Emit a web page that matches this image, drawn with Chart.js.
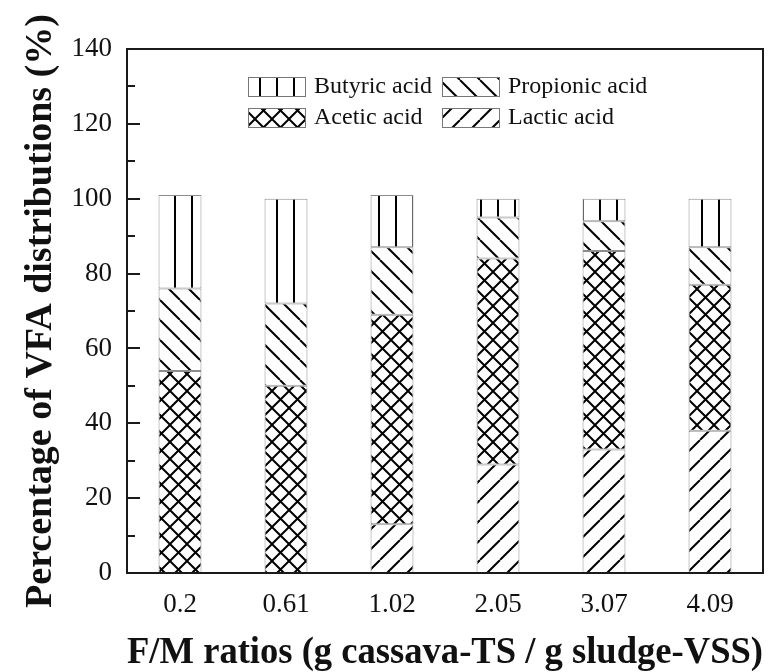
<!DOCTYPE html>
<html>
<head>
<meta charset="utf-8">
<script src="https://cdn.jsdelivr.net/npm/chart.js@4.4.1/dist/chart.umd.min.js"></script>
<style>
  html, body { margin: 0; padding: 0; background: #fff; }
  #wrap { width: 772px; height: 672px; }
</style>
</head>
<body>
<div id="wrap"><canvas id="chart" width="772" height="672"></canvas></div>
<script>
// F/M ratios on the x axis, VFA shares (%) stacked from the bottom up
const ratios    = ["0.2", "0.61", "1.02", "2.05", "3.07", "4.09"]
const lactic    = [0, 0, 13, 29, 33, 38]
const acetic    = [54, 50, 56, 55, 53, 39]
const propionic = [22, 22, 18, 11, 8, 10]
const butyric   = [25, 28, 14, 5, 6, 13]
const yTicks    = [0, 20, 40, 60, 80, 100, 120, 140]

const SERIF = "'Liberation Serif', 'Times New Roman', serif"

// ── Hatch fills ────────────────────────────────────────────────────────────

function hatch(kind) {
  const s = (kind === "vert" || kind === "cross") ? 17 : 20
  const c = document.createElement("canvas")
  c.width = s; c.height = s
  const g = c.getContext("2d")
  g.fillStyle = "#fff"
  g.fillRect(0, 0, s, s)
  g.strokeStyle = "#000"
  g.lineWidth = 2
  g.beginPath()
  if (kind === "vert") {
    g.moveTo(5, 0); g.lineTo(5, s)
  }
  for (let k = -1; k <= 1; k++) {
    if (kind === "fwd" || kind === "cross") { g.moveTo(k * s, s); g.lineTo((k + 1) * s, 0) }
    if (kind === "back" || kind === "cross") { g.moveTo(k * s, 0); g.lineTo((k + 1) * s, s) }
  }
  g.stroke()
  return g.createPattern(c, "repeat")
}

const series = [
  { label: "Lactic acid",    data: lactic,    fill: hatch("fwd")   },
  { label: "Acetic acid",    data: acetic,    fill: hatch("cross") },
  { label: "Propionic acid", data: propionic, fill: hatch("back")  },
  { label: "Butyric acid",   data: butyric,   fill: hatch("vert")  }
]

// ── Frame, inward ticks and in-plot legend ─────────────────────────────────

const framePlugin = {
  id: "frame",
  afterDatasetsDraw(chart) {
    const { ctx, chartArea: a, scales: { y } } = chart
    ctx.save()
    ctx.strokeStyle = "#1a1a1a"
    ctx.lineWidth = 2
    ctx.strokeRect(a.left, a.top, a.right - a.left, a.bottom - a.top)

    ctx.beginPath()
    yTicks.forEach((v, i) => {
      const py = Math.round(y.getPixelForValue(v))
      ctx.moveTo(a.left, py); ctx.lineTo(a.left + 13, py)
      if (i < yTicks.length - 1) {
        const pm = Math.round(y.getPixelForValue((v + yTicks[i + 1]) / 2))
        ctx.moveTo(a.left, pm); ctx.lineTo(a.left + 8, pm)
      }
    })
    ctx.stroke()

    // legend: [dataset index, column, row]
    const layout = [[3, 0, 0], [2, 1, 0], [1, 0, 1], [0, 1, 1]]
    ctx.font = `24px ${SERIF}`
    ctx.textBaseline = "middle"
    layout.forEach(([di, col, row]) => {
      const ds = chart.data.datasets[di]
      const bx = a.left + 121 + col * 194
      const by = a.top + 28 + row * 31
      ctx.fillStyle = ds.backgroundColor
      ctx.fillRect(bx, by, 57, 19)
      ctx.strokeStyle = "#777"
      ctx.lineWidth = 1
      ctx.strokeRect(bx + 0.5, by + 0.5, 57, 19)
      ctx.fillStyle = "#111"
      ctx.fillText(ds.label, bx + 66, by + 10)
    })
    ctx.restore()
  }
}

new Chart(document.getElementById("chart"), {
  type: "bar",
  data: {
    labels: ratios,
    datasets: series.map(s => ({
      label: s.label,
      data: s.data,
      backgroundColor: s.fill,
      borderColor: "#8c8c8c",
      borderWidth: 1,
      borderSkipped: false,
      categoryPercentage: 1,
      barPercentage: 0.405
    }))
  },
  options: {
    responsive: false,
    animation: false,
    devicePixelRatio: 1,
    layout: { padding: { top: 49, right: 9, left: 0, bottom: 0 } },
    plugins: { legend: { display: false }, tooltip: { enabled: false } },
    scales: {
      x: {
        stacked: true,
        grid: { display: false },
        border: { display: false },
        ticks: { color: "#111", padding: 8, font: { family: SERIF, size: 27 } },
        title: {
          display: true,
          text: "F/M ratios (g cassava-TS / g sludge-VSS)",
          color: "#111",
          padding: { top: 0, bottom: -4 },
          font: { family: SERIF, size: 38, weight: "bold" }
        },
        afterFit: s => { s.height = 99 }
      },
      y: {
        stacked: true,
        min: 0,
        max: 140,
        grid: { display: false },
        border: { display: false },
        ticks: { stepSize: 20, color: "#111", padding: 7, font: { family: SERIF, size: 27 } },
        title: {
          display: true,
          text: "Percentage of VFA distributions (%)",
          color: "#111",
          padding: { top: 18, bottom: 0 },
          font: { family: SERIF, size: 38, weight: "bold" }
        },
        afterFit: s => { s.width = 127 }
      }
    }
  },
  plugins: [framePlugin]
})
</script>
</body>
</html>
